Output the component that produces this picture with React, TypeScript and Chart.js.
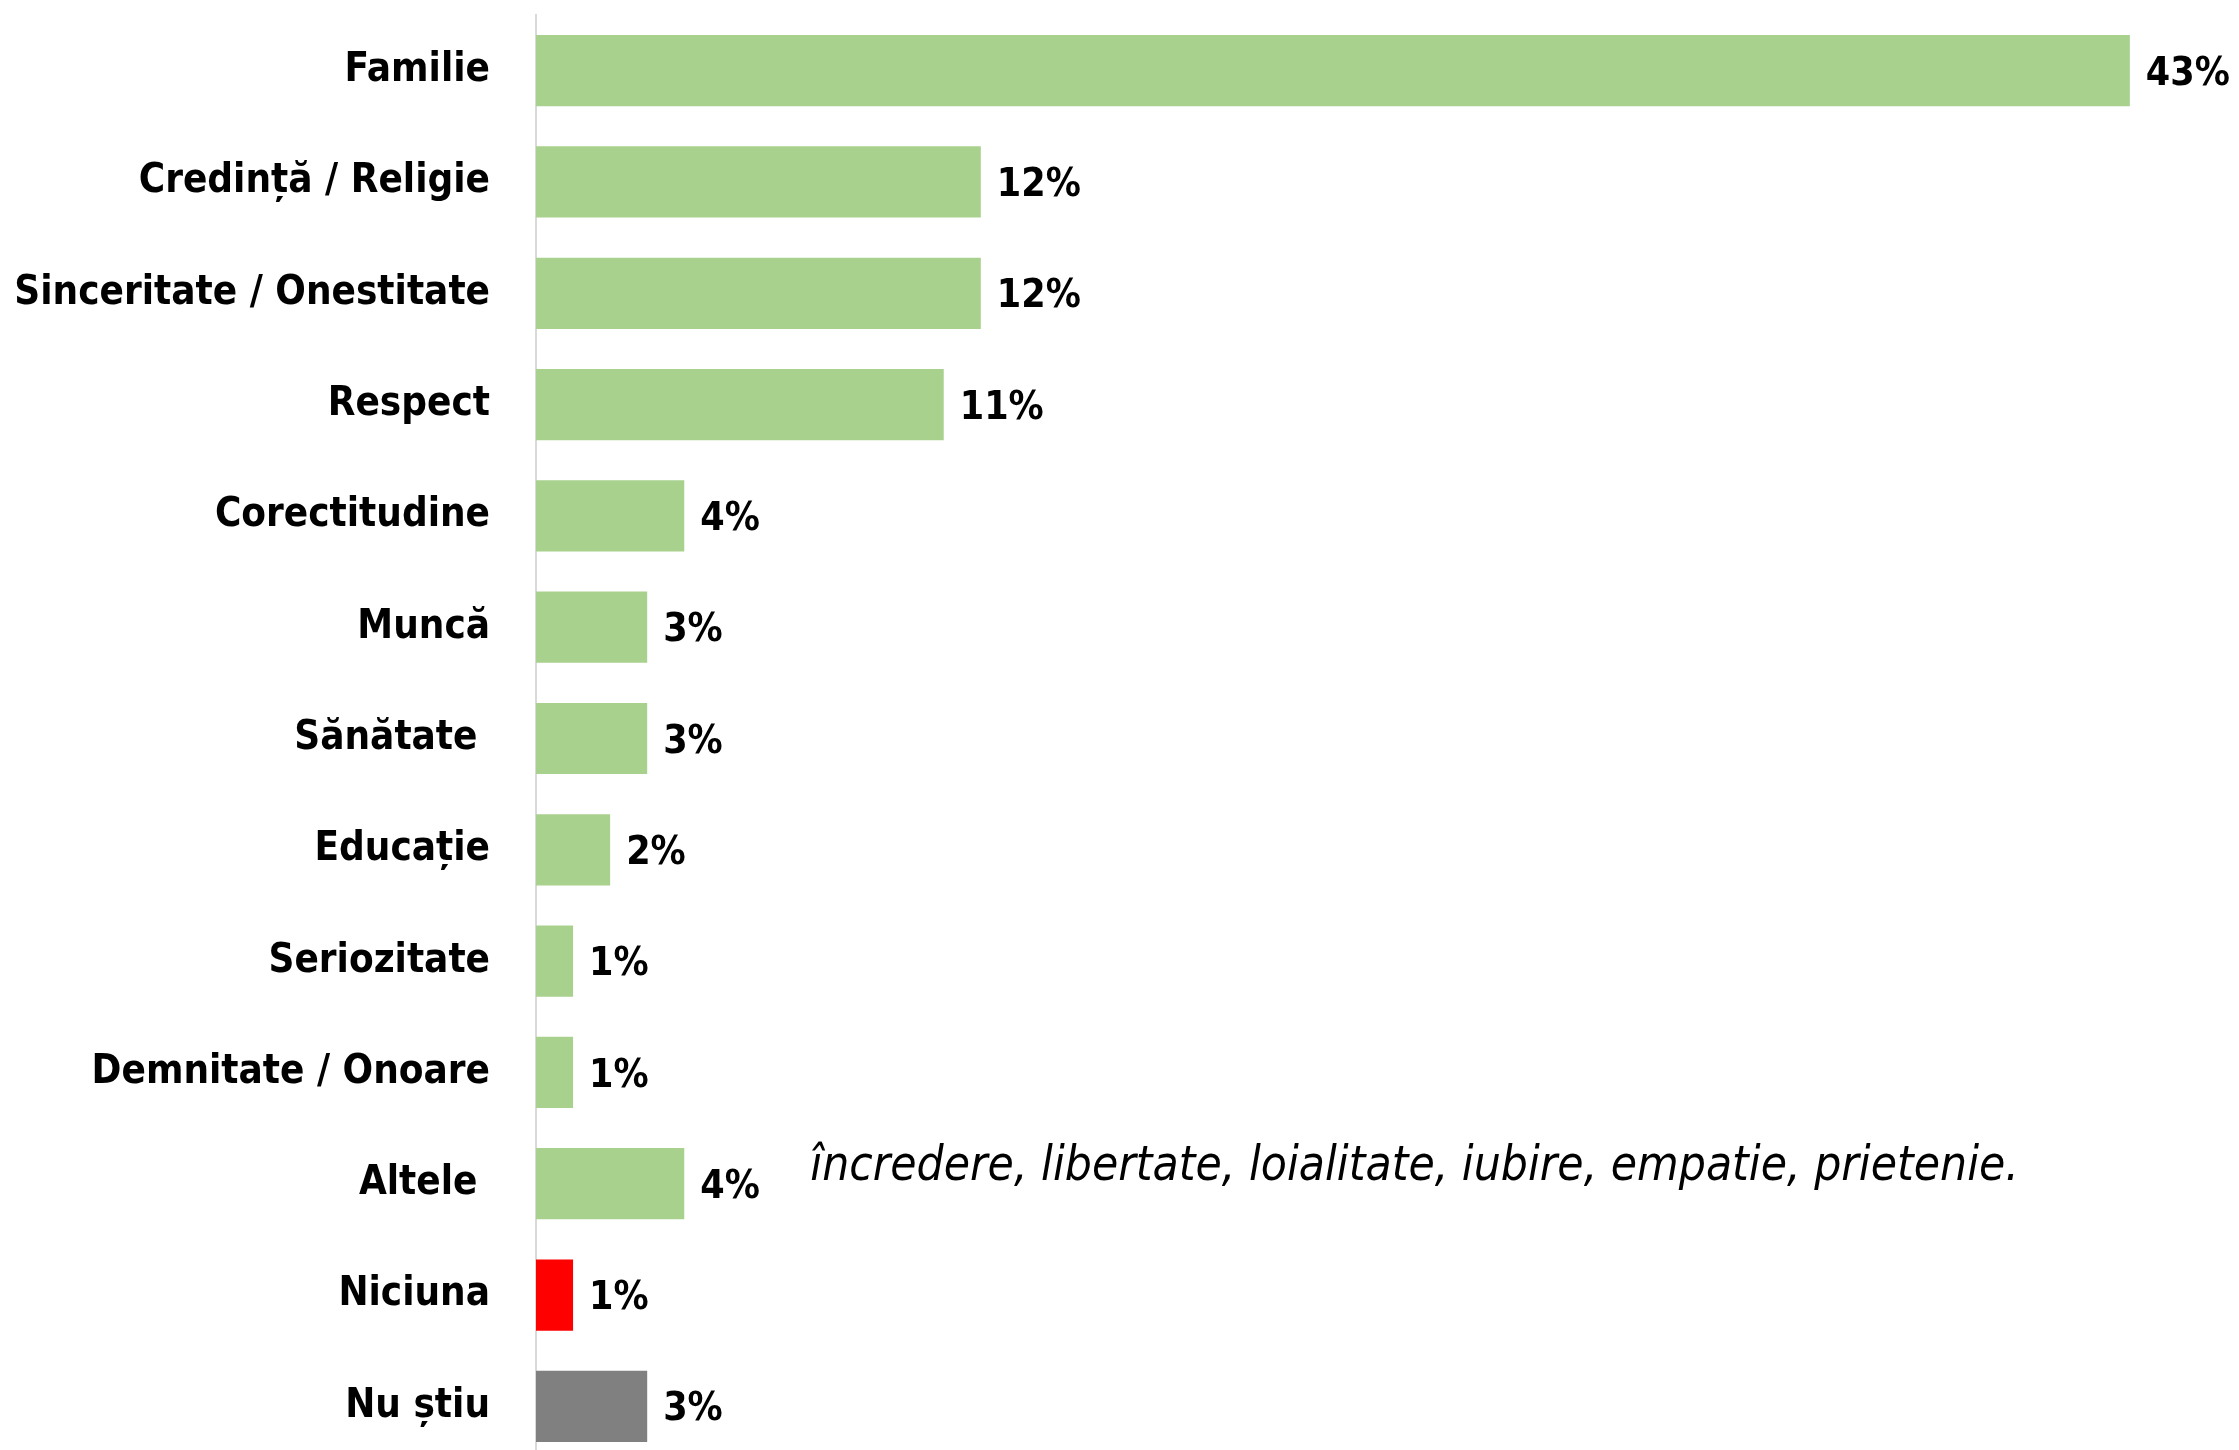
import React, { useEffect, useRef } from "react";
import { Chart, registerables } from "chart.js";

Chart.register(...registerables);

const categories = [
  "Familie",
  "Credință / Religie",
  "Sinceritate / Onestitate",
  "Respect",
  "Corectitudine",
  "Muncă",
  "Sănătate ",
  "Educație",
  "Seriozitate",
  "Demnitate / Onoare",
  "Altele ",
  "Niciuna",
  "Nu știu",
];

const values = [43, 12, 12, 11, 4, 3, 3, 2, 1, 1, 4, 1, 3];

const barColors = [
  "#A9D18E", "#A9D18E", "#A9D18E", "#A9D18E", "#A9D18E", "#A9D18E", "#A9D18E",
  "#A9D18E", "#A9D18E", "#A9D18E", "#A9D18E", "#FF0000", "#808080",
];

const otherNote = "încredere, libertate, loialitate, iubire, empatie, prietenie.";
const noteCategoryIndex = 10;
const noteXValue = 7.4;

const FONT = '"Liberation Sans Narrow", "DejaVu Sans Condensed", "Noto Sans", sans-serif';

const labelsPlugin = {
  id: "valueLabels",
  afterDatasetsDraw(chart: any) {
    const ctx = chart.ctx;
    const meta = chart.getDatasetMeta(0);
    ctx.save();
    ctx.fillStyle = "#000";
    ctx.font = `bold 39px ${FONT}`;
    ctx.textAlign = "left";
    ctx.textBaseline = "middle";
    meta.data.forEach((bar: any, i: number) => {
      ctx.fillText(values[i] + "%", bar.x + 16, bar.y + 4);
    });
    const xs = chart.scales.x;
    const ys = chart.scales.y;
    ctx.font = `italic 47.5px ${FONT}`;
    ctx.textBaseline = "alphabetic";
    ctx.fillText(otherNote, xs.getPixelForValue(noteXValue), ys.getPixelForValue(noteCategoryIndex) - 4);
    ctx.restore();
  },
};

export default function App() {
  const ref = useRef<HTMLCanvasElement | null>(null);
  useEffect(() => {
    if (!ref.current) return;
    const chart = new Chart(ref.current, {
      type: "bar",
      data: {
        labels: categories,
        datasets: [
          {
            data: values,
            backgroundColor: barColors,
            borderWidth: 0,
            categoryPercentage: 1,
            barPercentage: 0.64,
          },
        ],
      },
      options: {
        indexAxis: "y",
        animation: false,
        responsive: false,
        layout: { padding: { top: 15, bottom: 3, left: 0, right: 35 } },
        plugins: { legend: { display: false }, tooltip: { enabled: false } },
        scales: {
          x: {
            display: false,
            min: 0,
            max: 45,
          },
          y: {
            afterFit: (scale: any) => {
              scale.width = 536;
              scale.paddingTop = 0;
              scale.paddingBottom = 0;
            },
            grid: { display: true, drawOnChartArea: false, drawTicks: false },
            border: { display: true, color: "#D9D9D9", width: 2 },
            ticks: {
              padding: 46,
              color: "#000",
              font: { family: FONT, weight: "bold", size: 40, lineHeight: 1.0 },
            },
          },
        },
      },
      plugins: [labelsPlugin],
    });
    return () => chart.destroy();
  }, []);
  return (
    <div
      style={{
        position: "fixed",
        left: 0,
        top: 0,
        width: 2239,
        height: 1450,
        overflow: "hidden",
        background: "#fff",
      }}
    >
      <canvas ref={ref} width={2239} height={1465} style={{ display: "block" }} />
    </div>
  );
}
